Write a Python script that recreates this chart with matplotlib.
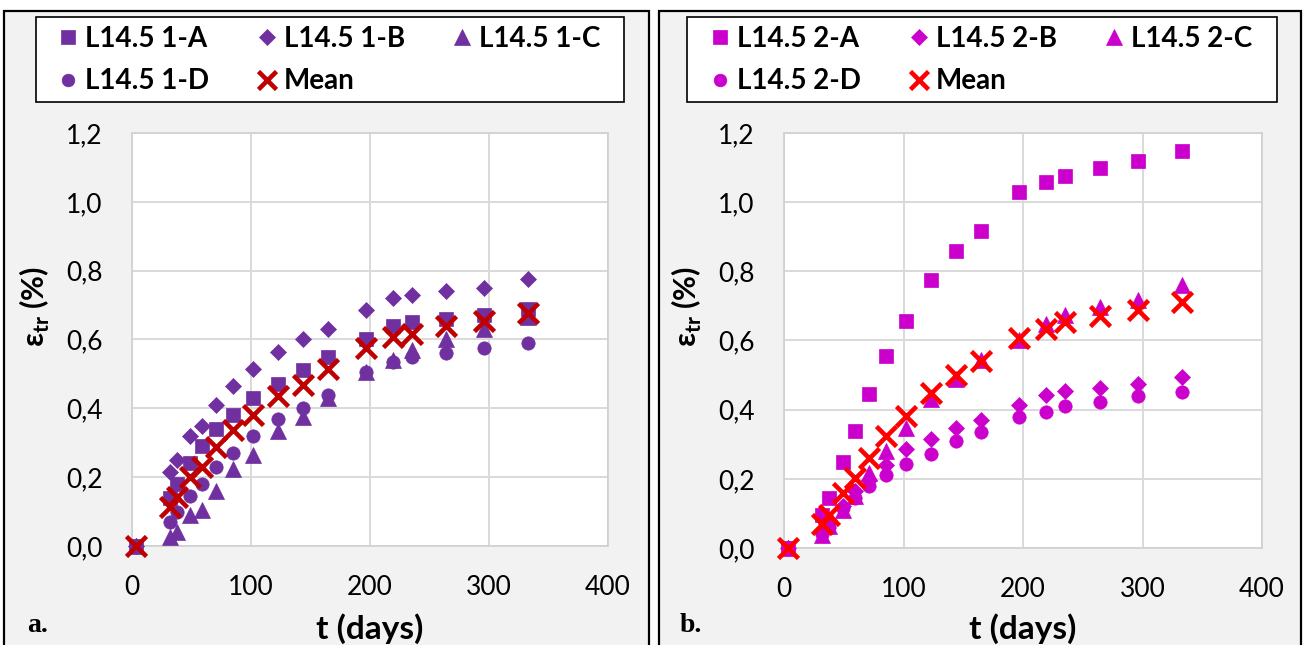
# Transverse strain vs time, two specimen groups (a. and b.)
import matplotlib.pyplot as plt
from matplotlib.patches import Rectangle
from matplotlib.ticker import FuncFormatter

plt.rcParams['font.family'] = ['Lato', 'DejaVu Sans']
plt.rcParams['mathtext.fontset'] = 'custom'
plt.rcParams['mathtext.rm'] = 'Lato'
plt.rcParams['mathtext.bf'] = 'Lato:bold'

# measurement days
days = [3, 32, 38, 49, 59, 71, 85, 102, 123, 144, 165, 197, 219, 235, 264, 296, 333]

# group 1 (panel a)
g1_a = [0, 0.14, 0.18, 0.24, 0.29, 0.34, 0.38, 0.43, 0.47, 0.51, 0.55, 0.60, 0.64, 0.65, 0.66, 0.67, 0.69]
g1_b = [0, 0.215, 0.25, 0.32, 0.35, 0.41, 0.465, 0.515, 0.565, 0.60, 0.63, 0.685, 0.72, 0.73, 0.74, 0.75, 0.775]
g1_c = [0, 0.026, 0.04, 0.09, 0.105, 0.16, 0.225, 0.265, 0.335, 0.375, 0.43, 0.505, 0.54, 0.57, 0.60, 0.63, 0.665]
g1_d = [0, 0.07, 0.10, 0.145, 0.18, 0.23, 0.27, 0.32, 0.37, 0.40, 0.44, 0.505, 0.535, 0.55, 0.56, 0.575, 0.59]
g1_mean = [0, 0.113, 0.143, 0.20, 0.23, 0.288, 0.337, 0.38, 0.436, 0.468, 0.513, 0.574, 0.608, 0.617, 0.639, 0.655, 0.678]

# group 2 (panel b)
g2_a = [0, 0.096, 0.145, 0.249, 0.338, 0.444, 0.555, 0.656, 0.775, 0.86, 0.918, 1.029, 1.058, 1.077, 1.098, 1.12, 1.147]
g2_b = [0, 0.053, 0.082, 0.12, 0.164, 0.198, 0.241, 0.285, 0.314, 0.346, 0.37, 0.413, 0.442, 0.455, 0.464, 0.474, 0.493]
g2_c = [0, 0.039, 0.063, 0.11, 0.15, 0.217, 0.28, 0.347, 0.43, 0.49, 0.543, 0.60, 0.649, 0.673, 0.697, 0.716, 0.76]
g2_d = [0, 0.04, 0.06, 0.115, 0.145, 0.178, 0.212, 0.243, 0.272, 0.31, 0.335, 0.38, 0.394, 0.41, 0.423, 0.439, 0.452]
g2_mean = [0, 0.068, 0.096, 0.16, 0.203, 0.26, 0.323, 0.383, 0.447, 0.50, 0.54, 0.606, 0.634, 0.654, 0.67, 0.687, 0.711]

labels1 = ['L14.5 1-A', 'L14.5 1-B', 'L14.5 1-C', 'L14.5 1-D', 'Mean']
labels2 = ['L14.5 2-A', 'L14.5 2-B', 'L14.5 2-C', 'L14.5 2-D', 'Mean']

markers = ['s', 'D', '^', 'o']
msizes = [10, 8.5, 11.5, 9.6]

fig = plt.figure(figsize=(13.05, 6.45), dpi=100, facecolor='white')

# panel backgrounds with black frames
fig.patches.append(Rectangle((0.003, -0.02), 0.494, 1.003, transform=fig.transFigure,
                             facecolor='#f2f2f2', edgecolor='black', lw=1.6, zorder=-10))
fig.patches.append(Rectangle((0.505, -0.02), 0.492, 1.003, transform=fig.transFigure,
                             facecolor='#f2f2f2', edgecolor='black', lw=1.6, zorder=-10))


def draw_panel(rect, series, mean, labels, color, mean_color, leg_box, leg_x0, letter, letter_x):
    ax = fig.add_axes(rect)
    ax.set_facecolor('white')
    handles = []
    for vals, m, s, lab in zip(series, markers, msizes, labels[:4]):
        h, = ax.plot(days, vals, linestyle='none', marker=m, ms=s, color=color,
                     mec=color, mew=0.5, clip_on=False, zorder=3, label=lab)
        handles.append(h)
    hm, = ax.plot(days, mean, linestyle='none', marker='x', ms=14, mew=3.3,
                  color=mean_color, clip_on=False, zorder=4, label=labels[4])
    handles.append(hm)

    ax.set_xlim(0, 400)
    ax.set_ylim(0, 1.2)
    ax.set_xticks([0, 100, 200, 300, 400])
    ax.set_yticks([0, 0.2, 0.4, 0.6, 0.8, 1.0, 1.2])
    ax.yaxis.set_major_formatter(FuncFormatter(lambda v, _: f"{v:.1f}".replace('.', ',')))
    ax.tick_params(length=0, labelsize=19, pad=21)
    ax.grid(True, color='#d9d9d9', lw=1.4)
    ax.set_axisbelow(True)
    for sp in ax.spines.values():
        sp.set_color('#d0d0d0')
        sp.set_linewidth(1.2)

    # legend box + legend
    fig.patches.append(Rectangle(leg_box[:2], leg_box[2], leg_box[3], transform=fig.transFigure,
                                 facecolor='white', edgecolor='black', lw=1.2, zorder=-5))
    order = [handles[0], handles[3], handles[1], handles[4], handles[2]]
    fig.legend(handles=order, labels=[h.get_label() for h in order], ncol=3, mode='expand',
               loc='center', bbox_to_anchor=(leg_x0, 0.907, 0.413, 0), frameon=False,
               borderpad=0, borderaxespad=0, handlelength=0.45, handletextpad=0.39,
               labelspacing=0.6, markerscale=0.95,
               prop={'weight': 'bold', 'size': 20})

    cx = rect[0] + rect[2] / 2
    fig.text(cx, 0.026, 't (days)', ha='center', va='center', fontsize=24, fontweight='bold')
    fig.text(rect[0] - 0.0743, 0.525, 'ε$_{\\mathbf{tr}}$ (%)', rotation=90, ha='center',
             va='center', fontsize=22, fontweight='bold')
    fig.text(letter_x, 0.031, letter, ha='center', va='center', fontsize=20,
             fontweight='bold', family='Liberation Serif')
    return ax


draw_panel([0.1011, 0.1535, 0.3648, 0.6403], [g1_a, g1_b, g1_c, g1_d], g1_mean, labels1,
           '#7030a0', '#c00000', (0.0276, 0.8419, 0.4506, 0.1318), 0.0473, 'a.', 0.0291)
draw_panel([0.6008, 0.1504, 0.3663, 0.6434], [g2_a, g2_b, g2_c, g2_d], g2_mean, labels2,
           '#cc00cc', '#ff0000', (0.5264, 0.8419, 0.4521, 0.1318), 0.5469, 'b.', 0.5295)

fig.savefig('out.png', dpi=100)
